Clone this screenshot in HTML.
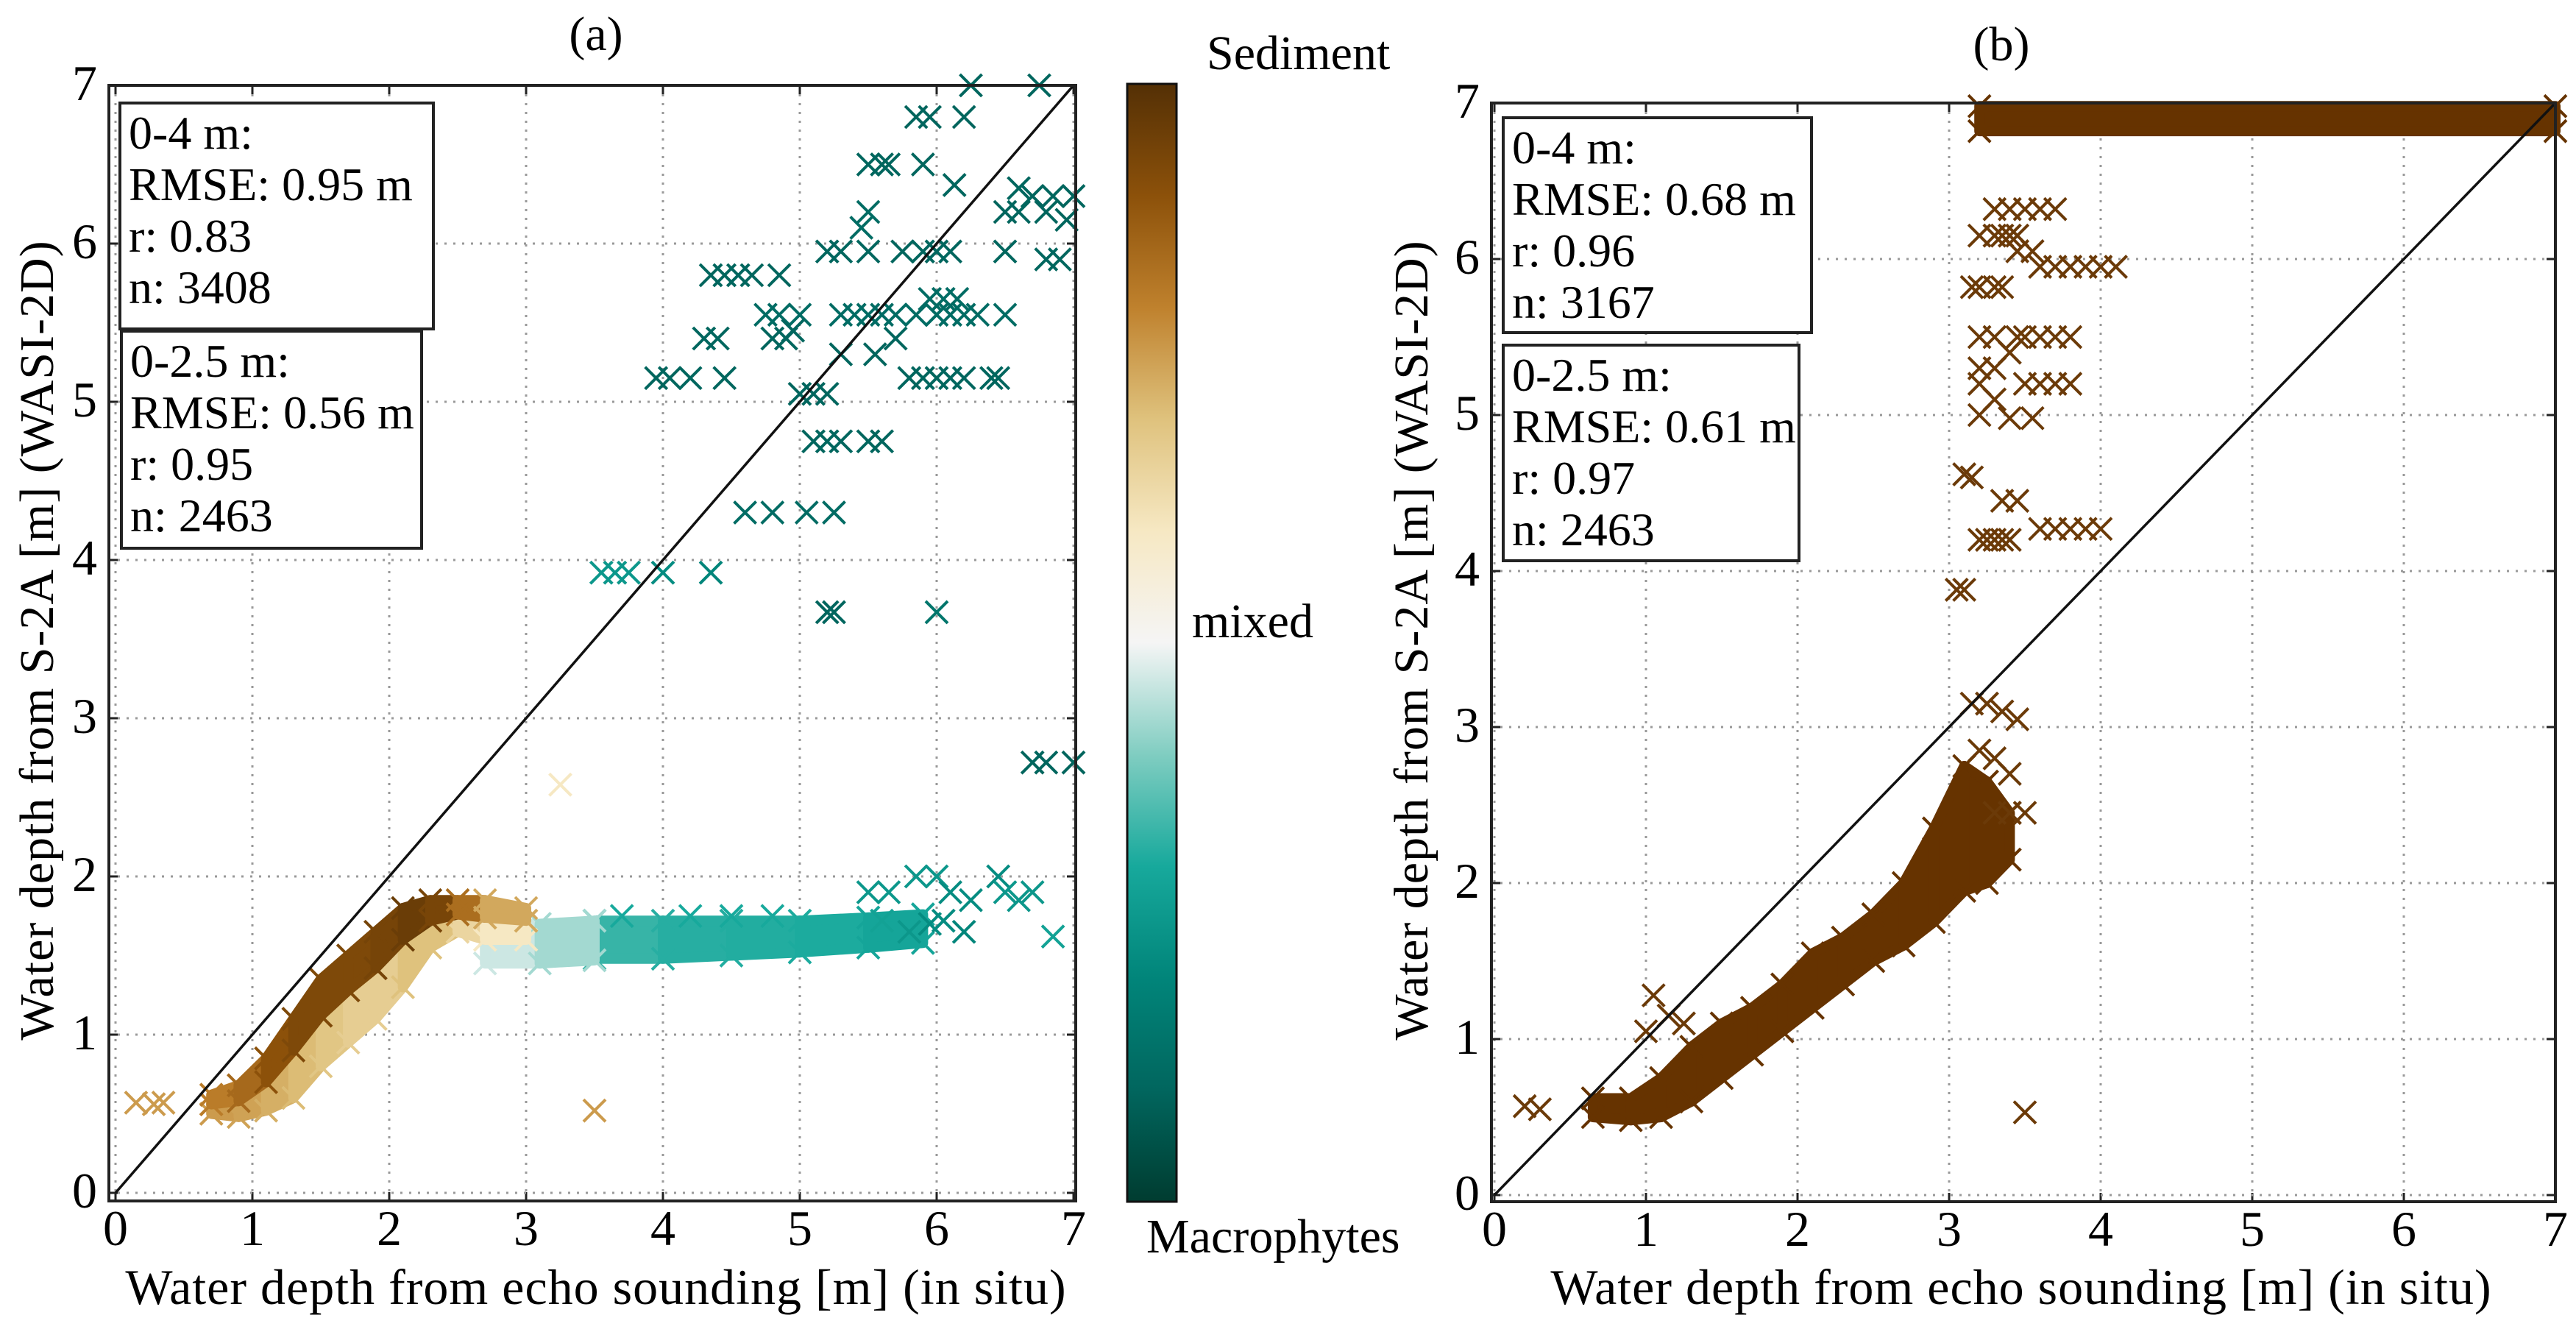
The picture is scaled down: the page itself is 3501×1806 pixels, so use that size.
<!DOCTYPE html>
<html><head><meta charset="utf-8"><style>
html,body{margin:0;padding:0;background:#fff}
svg{display:block;font-family:"Liberation Serif",serif}
</style></head><body>
<svg id="fig" width="3501" height="1806" viewBox="0 0 3501 1806" xmlns="http://www.w3.org/2000/svg">
<defs>
<linearGradient id="cbar" x1="0" y1="1" x2="0" y2="0">
<stop offset="0" stop-color="#003c30"/><stop offset="0.1" stop-color="#01665e"/><stop offset="0.2" stop-color="#01857a"/><stop offset="0.3" stop-color="#17a99c"/><stop offset="0.4" stop-color="#80cdc1"/><stop offset="0.5" stop-color="#f5f5f5"/><stop offset="0.6" stop-color="#f6e8c3"/><stop offset="0.7" stop-color="#dfc27d"/><stop offset="0.8" stop-color="#bf812d"/><stop offset="0.9" stop-color="#8c510a"/><stop offset="1" stop-color="#543005"/>
</linearGradient>
</defs>
<text x="810" y="68" font-size="66" text-anchor="middle">(a)</text>
<text x="2720" y="82" font-size="66" text-anchor="middle">(b)</text>
<g id="panelA"></g>
<g id="panelB"></g>
<g>
<rect x="1532" y="114" width="67" height="1519" fill="url(#cbar)" stroke="#111" stroke-width="3"/>
<text x="1640" y="94" font-size="66">Sediment</text>
<text x="1620" y="866" font-size="66">mixed</text>
<text x="1558" y="1702" font-size="66">Macrophytes</text>
</g>
</svg>
<script>
// ---- Panel (a) data ----
const aBandX  = [0.7, 0.9, 1.1, 1.3, 1.5, 1.7, 1.9, 2.1, 2.3, 2.5, 2.7, 3.0];
const aBandLo = [0.5, 0.48, 0.52, 0.6, 0.8, 0.95, 1.1, 1.3, 1.55, 1.65, 1.6, 1.6];
const aBandMid= [0.56, 0.58, 0.7, 0.9, 1.12, 1.28, 1.42, 1.6, 1.72, 1.76, 1.74, 1.72];
const aBandHi = [0.62, 0.68, 0.85, 1.1, 1.35, 1.5, 1.65, 1.8, 1.85, 1.85, 1.85, 1.8];
const aBandCL = [0.76, 0.76, 0.74, 0.72, 0.7, 0.68, 0.66, 0.68, 0.72, 0.68, 0.62, 0.58];
const aBandCU = [0.8, 0.82, 0.88, 0.92, 0.93, 0.92, 0.93, 0.95, 0.97, 0.9, 0.78, 0.7];
const aMixX  = [2.7, 3.1, 3.5];
const aMixLo = [1.45, 1.45, 1.47];
const aMixHi = [1.7, 1.7, 1.72];
const aMixC  = [0.47, 0.46, 0.4];
const aTealX  = [3.5, 4.0, 4.5, 5.0, 5.5, 5.9];
const aTealLo = [1.48, 1.48, 1.5, 1.52, 1.55, 1.58];
const aTealHi = [1.72, 1.72, 1.72, 1.72, 1.74, 1.76];
const aTealC  = [0.34, 0.32, 0.31, 0.31, 0.3, 0.28];
const aPtX = [6.25,6.75,5.85,5.95,6.2,5.5,5.6,5.65,5.9,6.13,6.6,6.7,6.85,7.0,6.5,6.6,6.8,6.95,5.5,5.45,
  5.2,5.3,5.5,5.75,5.9,6.0,6.1,6.5,4.35,4.45,4.55,4.65,4.85,6.8,6.9,
  4.75,4.85,5.0,5.3,5.4,5.5,5.6,5.7,5.85,6.0,6.1,6.2,6.3,6.5,5.95,6.05,6.15,
  4.3,4.4,4.8,4.9,5.7,4.95,3.95,4.05,4.2,4.45,5.8,5.9,6.0,6.1,6.2,6.4,6.45,5.3,5.55,5.0,5.1,5.2,
  5.1,5.2,5.3,5.5,5.6,4.6,4.8,5.05,5.25,3.55,3.65,3.75,4.0,4.35,5.2,5.25,6.0,6.7,6.8,7.0,
  3.25,3.5,0.15,0.28,0.35,
  5.5,5.65,5.85,6.0,6.1,6.25,6.45,6.5,6.6,6.7,6.2,6.85,5.95,6.05,5.8,3.7,4.2,4.5,4.8,5.6];
const aPtY = [7.0,7.0,6.8,6.8,6.8,6.5,6.5,6.5,6.5,6.37,6.35,6.3,6.3,6.3,6.2,6.2,6.2,6.15,6.2,6.1,
  5.95,5.95,5.95,5.95,5.95,5.95,5.95,5.95,5.8,5.8,5.8,5.8,5.8,5.9,5.9,
  5.55,5.55,5.55,5.55,5.55,5.55,5.55,5.55,5.55,5.55,5.55,5.55,5.55,5.55,5.65,5.65,5.65,
  5.4,5.4,5.4,5.4,5.4,5.45,5.15,5.15,5.15,5.15,5.15,5.15,5.15,5.15,5.15,5.15,5.15,5.3,5.3,5.05,5.05,5.05,
  4.75,4.75,4.75,4.75,4.75,4.3,4.3,4.3,4.3,3.92,3.92,3.92,3.92,3.92,3.67,3.67,3.67,2.72,2.72,2.72,
  2.58,0.52,0.57,0.56,0.57,
  1.9,1.9,2.0,2.0,1.9,1.85,2.0,1.9,1.85,1.9,1.65,1.62,1.7,1.72,1.65,1.75,1.75,1.75,1.75,1.72];
const aPtC = [0.1,0.1,0.1,0.1,0.1,0.1,0.1,0.1,0.1,0.1,0.1,0.1,0.1,0.1,0.1,0.1,0.1,0.1,0.12,0.12,
  0.1,0.1,0.1,0.1,0.1,0.1,0.1,0.1,0.1,0.1,0.1,0.1,0.1,0.1,0.1,
  0.12,0.12,0.12,0.12,0.12,0.12,0.12,0.12,0.12,0.12,0.12,0.12,0.12,0.12,0.12,0.12,0.12,
  0.1,0.1,0.1,0.1,0.1,0.1,0.1,0.1,0.1,0.1,0.1,0.1,0.1,0.1,0.1,0.1,0.1,0.1,0.1,0.1,0.1,0.1,
  0.1,0.1,0.1,0.1,0.1,0.12,0.12,0.12,0.12,0.25,0.25,0.25,0.22,0.2,0.1,0.1,0.15,0.1,0.1,0.1,
  0.6,0.76,0.76,0.76,0.76,
  0.25,0.25,0.25,0.25,0.22,0.22,0.22,0.25,0.25,0.25,0.2,0.28,0.22,0.22,0.25,0.3,0.3,0.3,0.3,0.28];

// ---- Panel (b) data ----
const bBandX  = [0.65, 0.9, 1.1, 1.3, 1.5, 1.7, 1.9, 2.1, 2.3, 2.5, 2.7, 2.9, 3.1, 3.25, 3.4];
const bBandLo = [0.5, 0.48, 0.5, 0.6, 0.75, 0.9, 1.05, 1.2, 1.35, 1.5, 1.6, 1.75, 1.95, 2.0, 2.15];
const bBandHi = [0.62, 0.62, 0.75, 0.95, 1.1, 1.2, 1.35, 1.55, 1.65, 1.8, 2.0, 2.35, 2.75, 2.65, 2.45];
const bTopX  = [3.2, 7.0];
const bTopLo = [6.82, 6.82];
const bTopHi = [6.98, 6.98];
const bPtX = [0.2,0.3,1.05,1.0,1.15,1.25,3.5,3.05,3.1,3.15,3.25,3.35,3.45,3.2,3.3,3.4,3.3,3.4,3.5,
  3.2,3.25,3.3,3.35,3.4,3.6,3.7,3.8,3.9,4.0,3.35,3.45,3.1,3.15,
  3.2,3.3,3.2,3.3,3.4,3.2,3.3,3.2,3.45,3.5,3.6,3.7,3.8,3.5,3.6,3.7,3.8,3.4,3.55,
  3.15,3.2,3.3,3.35,3.2,3.3,3.35,3.4,3.45,3.45,3.55,3.6,3.7,3.8,3.9,4.0,4.1,3.3,3.4,3.5,3.6,3.7];
const bPtY = [0.57,0.55,1.28,1.05,1.15,1.1,0.53,3.88,3.88,3.15,3.15,3.1,3.05,2.85,2.8,2.7,2.45,2.45,2.45,
  4.2,4.2,4.2,4.2,4.2,4.27,4.27,4.27,4.27,4.27,4.45,4.45,4.62,4.6,
  5.0,5.1,5.2,5.3,5.4,5.5,5.5,5.3,5.5,5.2,5.2,5.2,5.2,5.5,5.5,5.5,5.5,4.98,4.98,
  5.82,5.82,5.82,5.82,6.15,6.15,6.15,6.15,6.15,6.05,6.05,5.95,5.95,5.95,5.95,5.95,5.95,6.32,6.32,6.32,6.32,6.32];

const xTicks = [0,1,2,3,4,5,6,7];
const yTicks = [0,1,2,3,4,5,6,7];

const NS = "http://www.w3.org/2000/svg";
function mk(tag, attrs, parent){const e=document.createElementNS(NS,tag);for(const k in attrs)e.setAttribute(k,attrs[k]);parent.appendChild(e);return e;}

const stops=[[0,[0,60,48]],[0.1,[1,102,94]],[0.2,[1,133,122]],[0.3,[23,169,156]],[0.4,[128,205,193]],[0.5,[245,245,245]],[0.6,[246,232,195]],[0.7,[223,194,125]],[0.8,[191,129,45]],[0.9,[140,81,10]],[1,[84,48,5]]];
function cmap(c){for(let i=1;i<stops.length;i++){if(c<=stops[i][0]){const a=stops[i-1],b=stops[i],t=(c-a[0])/(b[0]-a[0]);const r=a[1].map((v,j)=>Math.round(v+(b[1][j]-v)*t));return `rgb(${r[0]},${r[1]},${r[2]})`;}}return "rgb(84,48,5)";}

function panel(g, P){
  const X=v=>P.x0+v*P.ux, Y=v=>P.y0-v*P.uy;
  for(const t of xTicks){const l=mk('line',{x1:X(t),x2:X(t),y1:P.top,y2:P.bottom,stroke:'#999','stroke-width':3,'stroke-dasharray':'3 9'},g);
    
    
    const tx=mk('text',{x:X(t),y:P.bottom+60,'font-size':68,'text-anchor':'middle'},g);tx.textContent=t;
    
    
    mk('line',{x1:X(t),x2:X(t),y1:P.bottom,y2:P.bottom-12,stroke:'#222','stroke-width':3},g);
    mk('line',{x1:X(t),x2:X(t),y1:P.top,y2:P.top+12,stroke:'#222','stroke-width':3},g);}
  for(const t of yTicks){const l=mk('line',{x1:P.left,x2:P.right,y1:Y(t),y2:Y(t),stroke:'#999','stroke-width':3,'stroke-dasharray':'3 9'},g);
    
    
    const tx=mk('text',{x:P.left-16,y:Y(t)+20,'font-size':68,'text-anchor':'end'},g);tx.textContent=t;
    
    
    mk('line',{x1:P.left,x2:P.left+12,y1:Y(t),y2:Y(t),stroke:'#222','stroke-width':3},g);
    mk('line',{x1:P.right,x2:P.right-12,y1:Y(t),y2:Y(t),stroke:'#222','stroke-width':3},g);}
  function band(bx,lo,hi,cols,name){
    for(let i=0;i<bx.length-1;i++){
      const pts=`${X(bx[i])},${Y(lo[i])} ${X(bx[i+1])},${Y(lo[i+1])} ${X(bx[i+1])},${Y(hi[i+1])} ${X(bx[i])},${Y(hi[i])}`;
      const p=mk('polygon',{points:pts,fill:cols(i),stroke:cols(i),'stroke-width':14,'stroke-linejoin':'round'},g);
      
      
    }
    for(let i=0;i<bx.length;i++){const c=cols(Math.min(i,bx.length-2));cross(bx[i],lo[i],c);cross(bx[i],hi[i],c);}
  }
  function cross(x,y,col){
    const s=15,cx=X(x),cy=Y(y);
    const p=mk('path',{d:`M${cx-s},${cy-s}L${cx+s},${cy+s}M${cx-s},${cy+s}L${cx+s},${cy-s}`,stroke:col,'stroke-width':4,fill:'none'},g);
    
    
  }
  P.draw(band,cross);
  const d=mk('line',{x1:X(0),y1:Y(0),x2:X(7),y2:Y(7),stroke:'#111','stroke-width':3.5},g);
  
  
  const f=mk('rect',{x:P.left,y:P.top,width:P.right-P.left,height:P.bottom-P.top,fill:'none',stroke:'#222','stroke-width':4},g);
  
  
  P.boxes.forEach((b,bi)=>{
    const r=mk('rect',{x:b[0],y:b[1],width:b[2],height:b[3],fill:'#fff',stroke:'#222','stroke-width':4},g);
    
    
    b[4].forEach((ln,i)=>{const t=mk('text',{x:b[0]+12,y:b[1]+62+i*70,'font-size':64},g);t.textContent=ln;
      
      });
  });
  const xl=mk('text',{x:P.xlab[0],y:P.xlab[1],'font-size':68,'text-anchor':'middle','letter-spacing':1},g);xl.textContent='Water depth from echo sounding [m] (in situ)';
  
  
  const yl=mk('text',{x:0,y:0,'font-size':66,'text-anchor':'middle','letter-spacing':1,transform:`translate(${P.ylab[0]},${P.ylab[1]}) rotate(-90)`},g);yl.textContent='Water depth from S-2A [m] (WASI-2D)';
  
  
}

panel(document.getElementById('panelA'),{x0:157,ux:186,y0:1621,uy:215,left:148,right:1462,top:116,bottom:1632,
  xlab:[810,1772],ylab:[72,870],
  boxes:[[163,140,426,307,['0-4 m:','RMSE: 0.95 m','r: 0.83','n: 3408']],[165,450,408,295,['0-2.5 m:','RMSE: 0.56 m','r: 0.95','n: 2463']]],
  draw:(band,cross)=>{
    band(aTealX,aTealLo,aTealHi,i=>cmap((aTealC[i]+aTealC[i+1])/2),'macrophyte-band');
    band(aMixX,aMixLo,aMixHi,i=>cmap((aMixC[i]+aMixC[i+1])/2),'mixed-band');
    band(aBandX,aBandLo,aBandMid,i=>cmap((aBandCL[i]+aBandCL[i+1])/2),'sediment-band-lower');
    band(aBandX,aBandMid,aBandHi,i=>cmap((aBandCU[i]+aBandCU[i+1])/2),'sediment-band-upper');
    for(let i=0;i<aPtX.length;i++)cross(aPtX[i],aPtY[i],cmap(aPtC[i]));
  }});
panel(document.getElementById('panelB'),{x0:2031,ux:206,y0:1624,uy:212,left:2027,right:3473,top:140,bottom:1633,
  xlab:[2747,1772],ylab:[1940,870],
  boxes:[[2043,160,419,292,['0-4 m:','RMSE: 0.68 m','r: 0.96','n: 3167']],[2043,469,402,293,['0-2.5 m:','RMSE: 0.61 m','r: 0.97','n: 2463']]],
  draw:(band,cross)=>{
    band(bBandX,bBandLo,bBandHi,()=> '#663300','depth-band');
    band(bTopX,bTopLo,bTopHi,()=> '#663300','saturated-band');
    for(let i=0;i<bPtX.length;i++)cross(bPtX[i],bPtY[i],'#6b3a08');
  }});
</script>
</body></html>
